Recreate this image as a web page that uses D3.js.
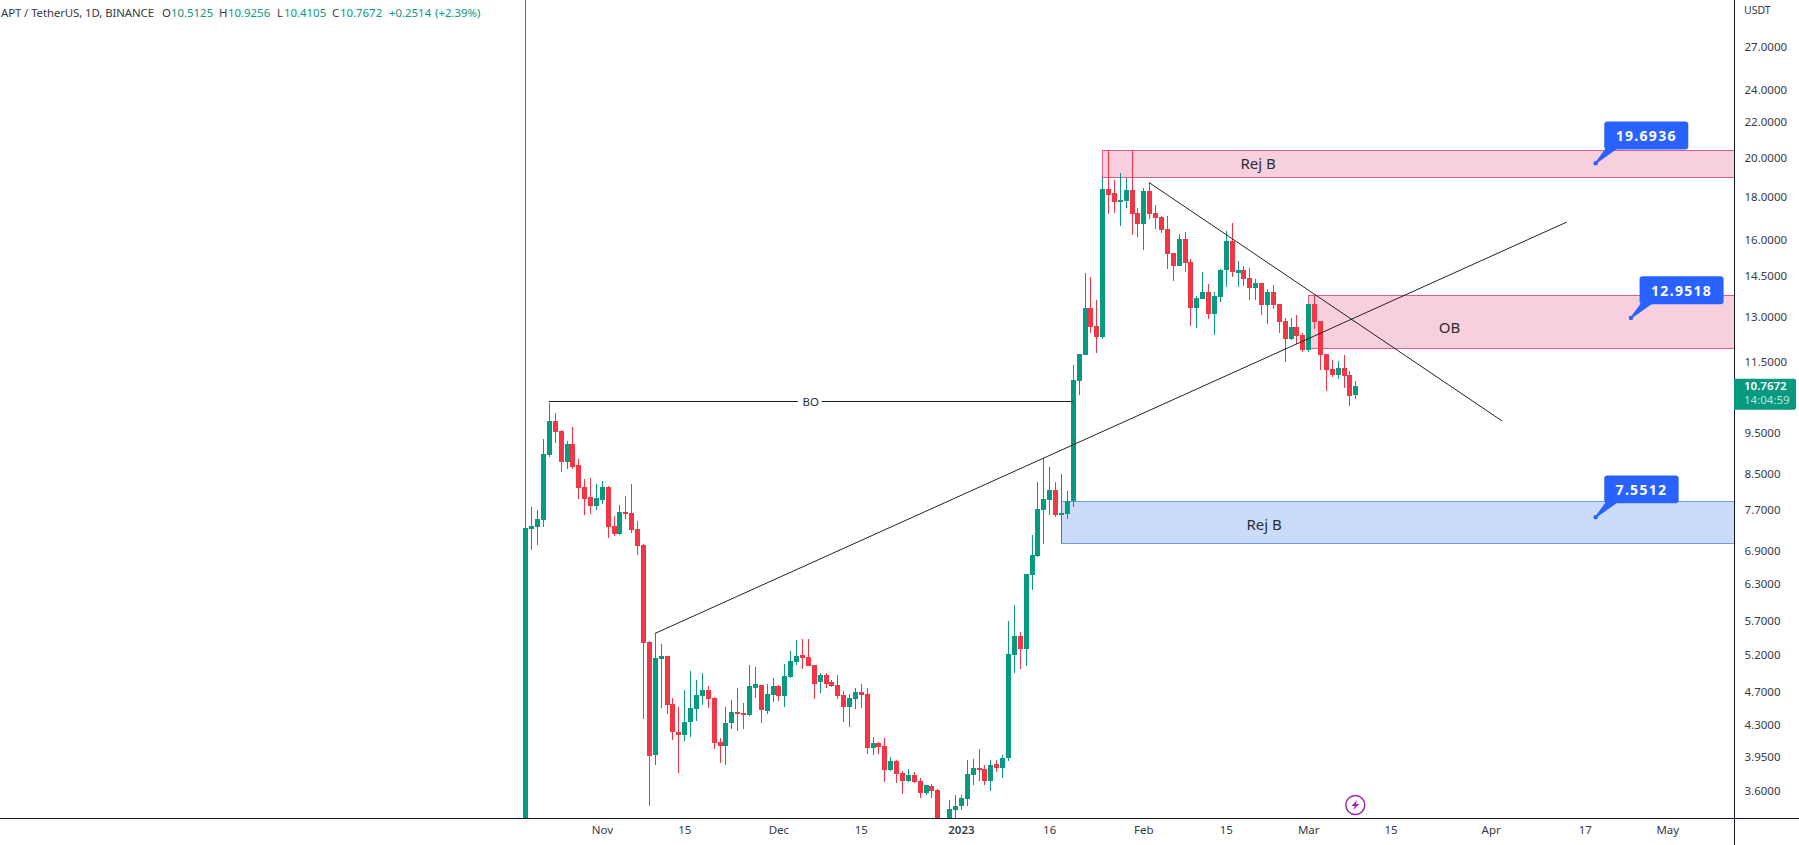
<!DOCTYPE html>
<html>
<head>
  <meta charset="utf-8">
  <style>
    html, body { margin: 0; padding: 0; background: #fff; overflow: hidden; }
    svg { display: block; font-family: "Noto Sans", sans-serif; }
    .wick { stroke-width: 1; shape-rendering: crispEdges; }
    .body { shape-rendering: crispEdges; }
    .up { fill: #089981; stroke: #089981; }
    .down { fill: #f23645; stroke: #f23645; }
    .wick.up, .wick.down { fill: none; }
    .body.up, .body.down { stroke: none; }
    .trend { stroke: #222; stroke-width: 1; fill: none; }
    .axis path { stroke: #131722; shape-rendering: crispEdges; }
    .axis text { fill: #363a45; font-size: 11.5px; font-family: "Noto Sans", sans-serif; }
    .zone-label { font-size: 15px; fill: #2a2e39; text-anchor: middle; dominant-baseline: central; }
    .callout text { font-size: 14px; font-weight: 700; fill: #fff; letter-spacing: 1.3px; text-anchor: middle; dominant-baseline: central; }
    .legend { font-size: 11.4px; dominant-baseline: central; }
  </style>
  <script src="https://d3js.org/d3.v7.min.js"></script>
</head>
<body>
<script>
  // APT / USDT daily candles, first one is 19 Oct 2022
  var firstDay = new Date(Date.UTC(2022, 9, 19));
  var lastDay = new Date(Date.UTC(2023, 2, 9));

  var opens = [2.8,7.32,7.35,7.49,8.93,9.79,9.53,8.76,9.20,8.69,8.20,7.97,7.78,7.91,8.20,7.37,7.21,7.66,7.64,7.31,
    7.00,5.38,3.97,5.14,5.19,4.55,4.22,4.19,4.34,4.49,4.65,4.73,4.63,4.11,4.06,4.32,4.45,4.44,4.42,4.76,
    4.79,4.47,4.67,4.78,4.65,4.90,5.10,5.20,5.17,5.06,4.83,4.93,4.83,4.79,4.67,4.52,4.61,4.70,4.68,4.04,
    4.10,4.06,3.81,3.90,3.78,3.70,3.76,3.70,3.58,3.65,3.61,3.25,3.30,3.42,3.45,3.52,3.76,3.83,3.82,3.70,
    3.87,3.83,3.93,5.20,5.48,5.28,6.45,6.79,7.70,7.91,8.13,7.60,7.62,7.88,10.92,11.71,13.30,12.67,12.30,18.36,
    18.16,17.73,17.78,18.31,17.19,16.71,18.26,17.19,17.02,16.47,15.44,14.91,16.03,15.07,13.30,13.63,13.89,13.09,13.70,14.75,
    15.95,14.63,14.75,14.43,14.04,14.24,13.42,13.89,13.46,12.85,12.23,12.64,12.37,11.87,13.46,12.85,11.74,11.28,11.11,11.31,
    11.11,10.5125];
  var highs = [40,7.76,7.70,9.33,10.3,10.0,9.56,9.28,9.64,8.83,8.37,8.39,8.25,8.33,8.22,7.57,7.81,7.99,8.25,7.47,
    7.02,5.40,5.51,5.35,5.19,4.63,4.51,4.73,4.98,4.86,4.95,4.78,4.64,4.15,4.52,4.60,4.76,4.56,5.06,5.03,
    4.79,4.81,4.89,4.79,5.07,5.26,5.41,5.43,5.43,5.06,4.95,4.95,4.86,4.93,4.71,4.68,4.76,4.81,4.76,4.16,
    4.11,4.15,3.94,3.91,3.80,3.82,3.79,3.73,3.66,3.67,3.62,3.33,3.51,3.56,3.56,3.91,3.92,4.03,3.86,3.91,
    3.91,3.97,5.70,5.95,5.53,6.47,7.19,8.31,8.86,8.65,8.31,8.49,8.11,11.40,11.74,14.63,14.47,13.60,18.92,20.41,
    18.82,19.17,18.94,20.41,17.44,18.41,18.71,17.58,17.06,17.06,15.44,16.26,16.34,15.19,13.74,14.67,14.20,13.89,14.79,16.39,
    16.75,15.11,14.91,14.83,14.39,14.24,14.01,14.16,13.46,12.95,12.95,13.06,12.43,13.46,13.78,12.85,11.74,11.56,11.53,11.71,
    11.22,10.9256];
  var lows = [2.7,6.91,7.00,7.35,8.88,9.23,8.53,8.60,8.60,7.93,7.60,7.62,7.70,7.83,7.14,7.17,7.19,7.51,7.23,6.82,
    4.37,3.45,3.86,4.50,4.43,4.13,3.78,4.12,4.16,4.35,4.54,4.50,4.03,3.88,3.86,4.25,4.23,4.26,4.41,4.63,
    4.32,4.43,4.58,4.59,4.52,4.89,5.06,5.00,5.05,4.61,4.69,4.76,4.77,4.61,4.34,4.28,4.49,4.50,3.98,3.97,
    3.98,3.69,3.80,3.68,3.57,3.69,3.68,3.53,3.56,3.53,3.20,3.15,3.25,3.34,3.42,3.45,3.66,3.70,3.66,3.60,
    3.79,3.73,3.90,4.95,5.00,5.05,6.20,6.77,7.02,7.60,7.56,7.04,7.51,7.76,10.51,11.71,12.43,11.77,12.23,17.15,
    17.19,16.61,17.44,16.21,16.11,15.57,16.92,16.47,16.30,14.79,14.31,14.91,14.67,12.67,12.60,13.63,12.92,12.37,13.53,14.08,
    14.47,14.08,14.12,13.60,13.60,13.06,12.74,13.27,12.43,11.50,12.20,12.07,11.80,11.80,12.57,11.25,10.62,11.04,10.98,10.71,
    10.20,10.4105];
  var closes = [7.33,7.37,7.51,8.95,9.79,9.51,8.76,9.20,8.65,8.17,7.93,7.78,7.95,8.20,7.35,7.21,7.66,7.62,7.29,6.98,
    5.37,3.96,5.16,5.19,4.54,4.22,4.19,4.34,4.50,4.67,4.73,4.61,4.10,4.06,4.33,4.45,4.43,4.42,4.78,4.81,
    4.48,4.68,4.78,4.65,4.91,5.12,5.19,5.16,5.05,4.81,4.93,4.81,4.78,4.65,4.52,4.63,4.70,4.67,4.04,4.10,
    4.05,3.81,3.90,3.77,3.70,3.76,3.69,3.58,3.66,3.60,3.25,3.30,3.43,3.45,3.53,3.77,3.83,3.81,3.70,3.86,
    3.83,3.93,5.21,5.48,5.28,6.47,6.81,7.72,7.93,8.13,7.60,7.64,7.89,10.95,11.74,13.30,12.64,12.30,18.36,18.07,
    17.73,17.82,18.31,17.15,16.71,18.26,17.15,16.97,16.43,15.40,14.91,16.03,15.03,13.30,13.67,13.89,13.09,13.74,14.75,15.95,
    14.67,14.75,14.39,14.04,14.24,13.42,13.89,13.42,12.81,12.23,12.64,12.33,11.87,13.46,12.81,11.71,11.25,11.11,11.31,11.08,
    10.48,10.7672];

  var priceTicks = [27, 24, 22, 20, 18, 16, 14.5, 13, 11.5, 9.5, 8.5, 7.7, 6.9, 6.3, 5.7, 5.2, 4.7, 4.3, 3.95, 3.6];
  var timeTicks = ["2022-11-01", "2022-11-15", "2022-12-01", "2022-12-15", "2023-01-01", "2023-01-16",
                   "2023-02-01", "2023-02-15", "2023-03-01", "2023-03-15", "2023-04-01", "2023-04-17", "2023-05-01"];
  var timeLabels = ["Nov", "15", "Dec", "15", "2023", "16", "Feb", "15", "Mar", "15", "Apr", "17", "May"];

  // drawings: zones, trend lines, price callouts
  var zones = [
    {from: "2023-01-25", top: 20.41, bottom: 18.96, kind: "pink", label: "Rej B", labelAt: "2023-02-20T12:00Z", labelPrice: 19.72},
    {from: "2023-03-01", top: 13.77, bottom: 11.93, kind: "pink", label: "OB", labelAt: "2023-03-25", labelPrice: 12.65},
    {from: "2023-01-18", top: 7.885, bottom: 7.035, kind: "blue", label: "Rej B", labelAt: "2023-02-21T12:00Z", labelPrice: 7.41}
  ];
  var trends = [
    [["2022-11-10", 5.51], ["2023-04-13T22:00Z", 16.79]],
    [["2023-02-02", 18.68], ["2023-04-02T22:00Z", 9.80]]
  ];
  var breakout = {from: "2022-10-23", to: "2023-01-20", price: 10.33, label: "BO", labelAt: "2022-12-06T12:00Z"};
  var callouts = [
    {date: "2023-04-18T20:00Z", price: 19.6936, w: 84},
    {date: "2023-04-24T20:00Z", price: 12.9518, w: 84},
    {date: "2023-04-18T20:00Z", price: 7.5512, w: 74.4}
  ];

  var width = 1799, height = 845;
  var axisX = 1734, axisY = 818;

  var days = opens.map(function(d, i) { return d3.utcDay.offset(firstDay, i); });
  var candles = opens.map(function(d, i) {
    return {date: days[i], open: d, high: highs[i], low: lows[i], close: closes[i]};
  });

  var xScale = d3.scaleUtc().domain([firstDay, lastDay]).range([525.3, 1355.3]);
  var yScale = d3.scaleLog().domain([22, 3.6]).range([122.3, 790.7]);

  function day(s) { return new Date(s.length == 10 ? s + "T00:00Z" : s); }
  function cx(d) { return Math.round(xScale(d)); }
  function side(d) { return d.close >= d.open ? "up" : "down"; }

  var svg = d3.select("body").append("svg")
      .attr("width", width)
      .attr("height", height);

  svg.append("clipPath").attr("id", "plot")
    .append("rect").attr("width", axisX).attr("height", axisY);

  var plot = svg.append("g").attr("clip-path", "url(#plot)");

  // zones sit behind the candles
  plot.selectAll(".zone")
    .data(zones)
    .enter().append("rect")
      .attr("class", "zone")
      .attr("x", function(d) { return cx(day(d.from)) + 0.5; })
      .attr("y", function(d) { return Math.round(yScale(d.top)) + 0.5; })
      .attr("width", width)
      .attr("height", function(d) { return Math.round(yScale(d.bottom) - yScale(d.top)); })
      .attr("fill", function(d) { return d.kind == "pink" ? "#f8cfdd" : "#cbdcfb"; })
      .attr("stroke", function(d) { return d.kind == "pink" ? "#dc5c8f" : "#6f9ce8"; })
      .attr("stroke-width", 1);

  var candle = plot.selectAll(".candle")
    .data(candles)
    .enter().append("g")
      .attr("class", "candle");

  candle.append("line")
    .attr("class", function(d) { return "wick " + side(d); })
    .attr("x1", function(d) { return cx(d.date) + 0.5; })
    .attr("x2", function(d) { return cx(d.date) + 0.5; })
    .attr("y1", function(d) { return yScale(d.high); })
    .attr("y2", function(d) { return yScale(d.low); });

  candle.append("rect")
    .attr("class", function(d) { return "body " + side(d); })
    .attr("x", function(d) { return cx(d.date) - 2; })
    .attr("width", 5)
    .attr("y", function(d) { return yScale(Math.max(d.open, d.close)); })
    .attr("height", function(d) { return Math.max(1, Math.abs(yScale(d.open) - yScale(d.close))); });

  // breakout line, broken around its label
  var boY = Math.round(yScale(breakout.price)) + 0.5;
  var boMid = xScale(day(breakout.labelAt));
  plot.selectAll(".bo")
    .data([[xScale(day(breakout.from)), boMid - 13], [boMid + 11, xScale(day(breakout.to))]])
    .enter().append("line")
      .attr("class", "bo")
      .attr("x1", function(d) { return d[0]; })
      .attr("x2", function(d) { return d[1]; })
      .attr("y1", boY)
      .attr("y2", boY)
      .attr("stroke", "#131722");
  plot.append("text")
    .attr("class", "zone-label")
    .attr("x", boMid)
    .attr("y", boY)
    .style("font-size", "11.5px")
    .text(breakout.label);

  var trendLine = d3.line()
    .x(function(d) { return xScale(day(d[0])); })
    .y(function(d) { return yScale(d[1]); });

  plot.selectAll(".trend")
    .data(trends)
    .enter().append("path")
      .attr("class", "trend")
      .attr("d", trendLine);

  plot.selectAll(".zone-text")
    .data(zones)
    .enter().append("text")
      .attr("class", "zone-label zone-text")
      .attr("x", function(d) { return xScale(day(d.labelAt)); })
      .attr("y", function(d) { return yScale(d.labelPrice); })
      .text(function(d) { return d.label; });

  // callouts
  var callout = plot.selectAll(".callout")
    .data(callouts)
    .enter().append("g")
      .attr("class", "callout")
      .attr("transform", function(d) {
        return "translate(" + xScale(day(d.date)) + "," + yScale(d.price) + ")";
      });

  callout.append("path")
    .attr("d", "M0,0L11,-15L21,-15Z")
    .attr("fill", "#2962ff")
    .attr("stroke", "#2962ff")
    .attr("stroke-width", 1.5);
  callout.append("circle").attr("r", 2.2).attr("fill", "#2962ff");
  callout.append("rect")
    .attr("x", 8.6)
    .attr("y", -41.6)
    .attr("rx", 3)
    .attr("width", function(d) { return d.w; })
    .attr("height", 27.8)
    .attr("fill", "#2962ff");
  callout.append("text")
    .attr("x", function(d) { return 8.6 + d.w / 2; })
    .attr("y", -27.5)
    .text(function(d) { return d.price.toFixed(4); });

  // axes
  var priceAxis = d3.axisRight(yScale)
    .tickValues(priceTicks)
    .tickSize(0)
    .tickPadding(10)
    .tickFormat(d3.format(".4f"));

  var timeAxis = d3.axisBottom(xScale)
    .tickValues(timeTicks.map(day))
    .tickSize(0)
    .tickPadding(7)
    .tickFormat(function(d, i) { return timeLabels[i]; });

  var gx = svg.append("g")
    .attr("class", "axis")
    .attr("transform", "translate(0," + (axisY + 0.5) + ")")
    .call(timeAxis);
  gx.select(".domain").attr("d", "M0,0H" + width);
  gx.selectAll(".tick text")
    .style("font-weight", function(d, i) { return timeLabels[i] == "2023" ? 600 : 400; });

  var gy = svg.append("g")
    .attr("class", "axis")
    .attr("transform", "translate(" + (axisX + 0.5) + ",0)")
    .call(priceAxis);
  gy.select(".domain").attr("d", "M0,0V" + height);

  svg.append("text")
    .attr("x", axisX + 10)
    .attr("y", 10)
    .attr("dominant-baseline", "central")
    .attr("fill", "#363a45")
    .style("font-size", "10.5px")
    .text("USDT");

  // last price tag
  var lastClose = closes[closes.length - 1];
  var tagY = yScale(lastClose);
  svg.append("path")
    .attr("d", "M" + axisX + "," + (tagY - 7.5) + "h60a2,2 0 0 1 2,2v27a2,2 0 0 1 -2,2h-60z")
    .attr("fill", "#089981");
  svg.append("text")
    .attr("x", axisX + 10)
    .attr("y", tagY - 1)
    .attr("dominant-baseline", "central")
    .attr("fill", "#fff")
    .style("font-size", "11.5px")
    .style("font-weight", 600)
    .text(lastClose.toFixed(4));
  svg.append("text")
    .attr("x", axisX + 10)
    .attr("y", tagY + 13)
    .attr("dominant-baseline", "central")
    .attr("fill", "#bfe3dc")
    .style("font-size", "11.5px")
    .text("14:04:59");

  // header legend
  var legendParts = [
    {t: "APT / TetherUS, 1D, BINANCE", x: 1, fit: 153, c: "#363a45"},
    {t: "O", x: 162, c: "#363a45"}, {t: "10.5125", x: 171, c: "#089981"},
    {t: "H", x: 219, c: "#363a45"}, {t: "10.9256", x: 228, c: "#089981"},
    {t: "L", x: 277, c: "#363a45"}, {t: "10.4105", x: 284, c: "#089981"},
    {t: "C", x: 332, c: "#363a45"}, {t: "10.7672", x: 340, c: "#089981"},
    {t: "+0.2514", x: 389, c: "#089981"}, {t: "(+2.39%)", x: 435, c: "#089981"}
  ];
  svg.selectAll(".legend")
    .data(legendParts)
    .enter().append("text")
      .attr("class", "legend")
      .attr("x", function(d) { return d.x; })
      .attr("y", 12)
      .attr("textLength", function(d) { return d.fit || null; })
      .attr("fill", function(d) { return d.c; })
      .text(function(d) { return d.t; });

  // lightning badge
  var bolt = svg.append("g")
    .attr("transform", "translate(" + xScale(lastDay) + ",805)");
  bolt.append("circle")
    .attr("r", 9.5)
    .attr("fill", "#fff")
    .attr("stroke", "#9c27b0")
    .attr("stroke-width", 1.5);
  bolt.append("path")
    .attr("d", "M2,-5L-4,1H-0.5L-2,5L4,-1H0.5Z")
    .attr("fill", "#9c27b0");
</script>
</body>
</html>
